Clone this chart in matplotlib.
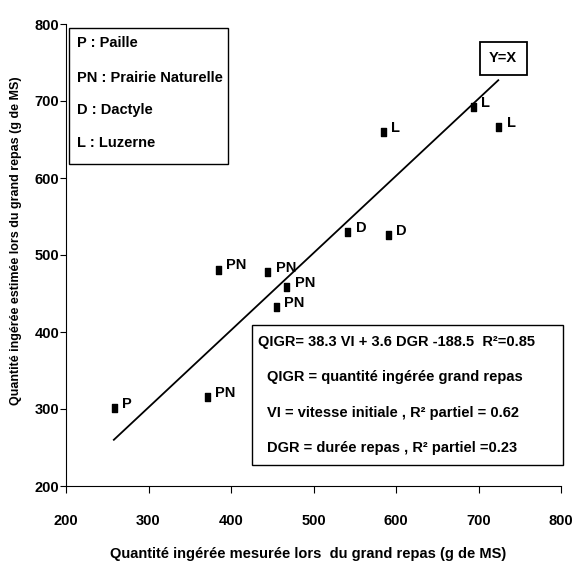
import matplotlib
matplotlib.use("Agg")
import matplotlib.pyplot as plt
from matplotlib.path import Path
from matplotlib.patches import Rectangle

plt.rcParams['font.family'] = ['Liberation Sans', 'DejaVu Sans']
plt.rcParams['font.weight'] = 'bold'

# Data
measured = [258, 371, 384, 444, 467, 454, 541, 590, 584, 693, 724]
estimated = [301, 315, 481, 478, 458, 432, 530, 526, 660, 692, 666]
labels = ["P", "PN", "PN", "PN", "PN", "PN", "D", "D", "L", "L", "L"]
line_x = [258, 724]
line_y = [260, 727]
ticks = [200, 300, 400, 500, 600, 700, 800]
legend_lines = ["P : Paille", "PN : Prairie Naturelle", "D : Dactyle", "L : Luzerne"]
eq_lines = ["QIGR= 38.3 VI + 3.6 DGR -188.5  R\u00b2=0.85",
            "QIGR = quantité ingérée grand repas",
            "VI = vitesse initiale , R\u00b2 partiel = 0.62",
            "DGR = durée repas , R\u00b2 partiel =0.23"]

FS = 10.5

fig = plt.figure(figsize=(5.82, 5.75), dpi=100)
ax = fig.add_axes([66/582, 1-486/575, 495/582, 462/575])

rect_marker = Path([(-0.3, -0.5), (0.3, -0.5), (0.3, 0.5), (-0.3, 0.5), (-0.3, -0.5)],
                   [Path.MOVETO, Path.LINETO, Path.LINETO, Path.LINETO, Path.CLOSEPOLY])

ax.plot(line_x, line_y, color='black', lw=1.3)
ax.plot(measured, estimated, linestyle='none', marker=rect_marker, markersize=6,
        color='black')
for x, y, t in zip(measured, estimated, labels):
    ax.annotate(t, (x, y), xytext=(6, 3), textcoords='offset points',
                fontsize=FS, fontweight='bold', va='center', ha='left')

ax.set_xlim(200, 800)
ax.set_ylim(200, 800)
ax.set_xticks(ticks)
ax.set_yticks(ticks)
ax.spines['top'].set_visible(False)
ax.spines['right'].set_visible(False)
ax.tick_params(axis='x', direction='out', length=5, pad=15, labelsize=FS)
ax.tick_params(axis='y', direction='out', length=4, pad=1, labelsize=FS)
for lab in ax.get_xticklabels() + ax.get_yticklabels():
    lab.set_fontweight('bold')

ax.set_xlabel("Quantité ingérée mesurée lors  du grand repas (g de MS)",
              fontsize=FS, fontweight='bold')
ax.xaxis.set_label_coords(0.49, -0.132)
ax.set_ylabel("Quantité ingérée estimée lors du grand repas (g de MS)",
              fontsize=9, fontweight='bold')
ax.yaxis.set_label_coords(-0.089, 0.532)

# Legend box
ax.add_patch(Rectangle((0.006, 0.697), 0.321, 0.294, transform=ax.transAxes,
                       fill=False, edgecolor='black', lw=1.0, clip_on=False))
for yy, t in zip([0.959, 0.883, 0.813, 0.742], legend_lines):
    ax.text(0.022, yy, t, transform=ax.transAxes, fontsize=FS, fontweight='bold',
            va='center', ha='left')

# Equation box
ax.add_patch(Rectangle((0.376, 0.045), 0.628, 0.303, transform=ax.transAxes,
                       fill=False, edgecolor='black', lw=1.0, clip_on=False))
for i, (yy, t) in enumerate(zip([0.312, 0.236, 0.158, 0.082], eq_lines)):
    ax.text(0.388 if i == 0 else 0.406, yy, t, transform=ax.transAxes,
            fontsize=FS, fontweight='bold', va='center', ha='left')

# Y=X box
ax.text(0.883, 0.926, "Y=X", transform=ax.transAxes, fontsize=FS, fontweight='bold',
        va='center', ha='center',
        bbox=dict(boxstyle='square,pad=0.65', facecolor='white', edgecolor='black', lw=1.3))

fig.savefig("out.png", dpi=100)
